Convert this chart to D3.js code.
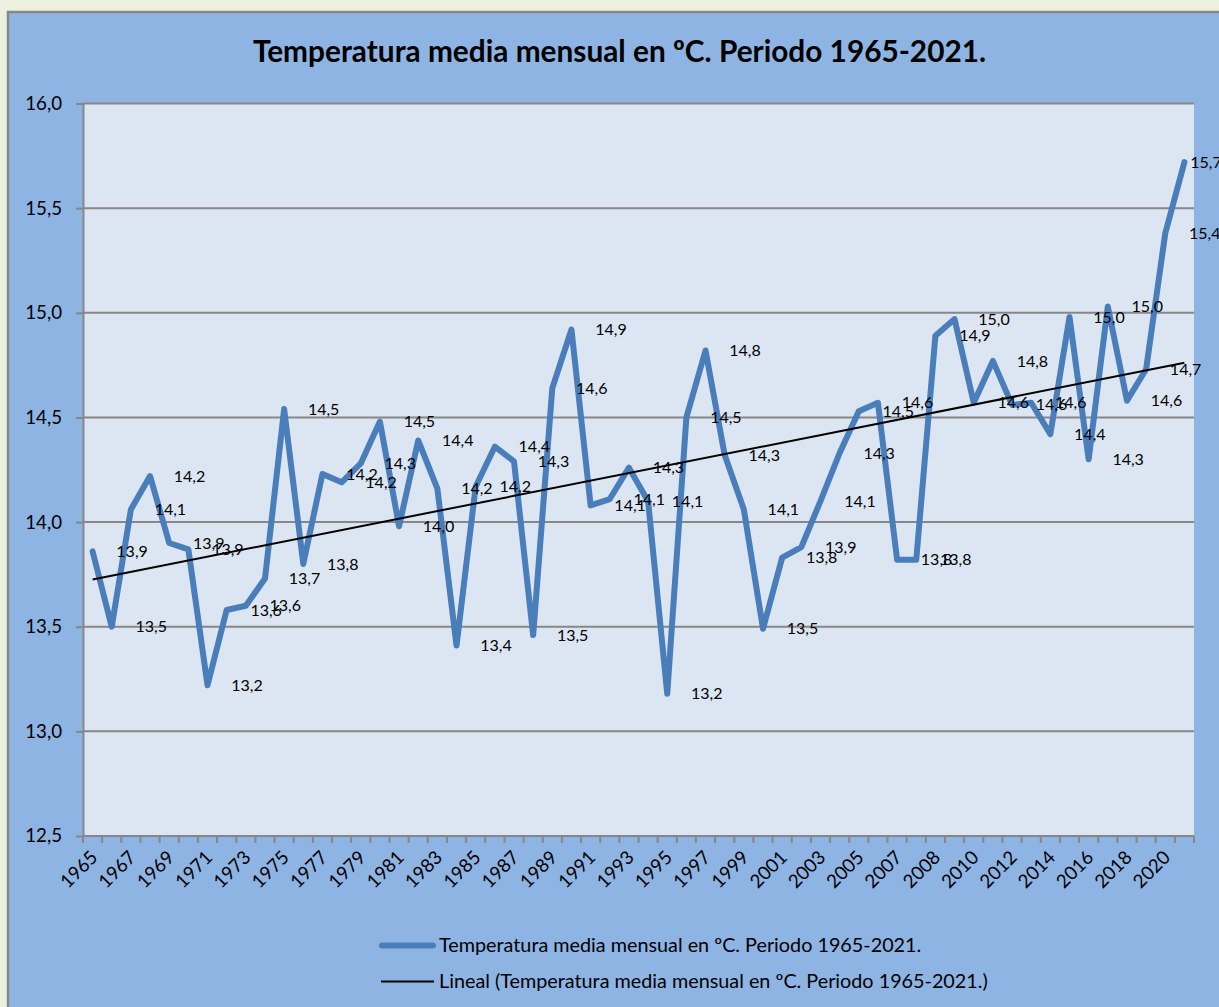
<!DOCTYPE html>
<html><head><meta charset="utf-8">
<script src="https://cdn.jsdelivr.net/npm/d3@7"></script>
<style>html,body{margin:0;padding:0;background:#EBF1DE;overflow:hidden;} svg{display:block;font-family:Lato,"Open Sans",sans-serif;}</style>
</head><body><svg id="c" width="1219" height="1007"></svg>
<script>
const chartTitle = "Temperatura media mensual en ºC. Periodo 1965-2021.";
const seriesName = "Temperatura media mensual en ºC. Periodo 1965-2021.";
const trendName = "Lineal (Temperatura media mensual en ºC. Periodo 1965-2021.)";
const categories = ["1965","1966","1967","1968","1969","1970","1971","1972","1973","1974",
  "1975","1976","1977","1978","1979","1980","1981","1982","1983","1984",
  "1985","1986","1987","1988","1989","1990","1991","1992","1993","1994",
  "1995","1996","1997","1998","1999","2000","2001","2002","2003","2004",
  "2005","2006","2007","2007","2008","2009","2010","2011","2012","2013",
  "2014","2015","2016","2017","2018","2019","2020","2021"];
const temps = [13.86,13.50,14.06,14.22,13.90,13.87,13.22,13.58,13.60,13.73,
  14.54,13.80,14.23,14.19,14.28,14.48,13.98,14.39,14.16,13.41,
  14.17,14.36,14.29,13.46,14.64,14.92,14.08,14.11,14.26,14.10,
  13.18,14.50,14.82,14.32,14.06,13.49,13.83,13.88,14.10,14.33,
  14.53,14.57,13.82,13.82,14.89,14.97,14.57,14.77,14.56,14.57,
  14.42,14.98,14.30,15.03,14.58,14.73,15.38,15.72];
const yTicks = [12.5,13.0,13.5,14.0,14.5,15.0,15.5,16.0];

const W = 1219, H = 1007;
const L = 83, R = 1194, T = 103.5, B = 836;
const svg = d3.select("#c");
const fmt = d => d3.format(".1f")(d).replace(".", ",");

svg.append("rect").attr("width", W).attr("height", H).attr("fill", "#EBF1DE");
svg.append("rect").attr("x", 8).attr("y", 12).attr("width", W + 20).attr("height", H + 20)
  .attr("fill", "#8EB4E3").attr("stroke", "#878787").attr("stroke-width", 2.5);
svg.append("rect").attr("x", L).attr("y", T).attr("width", R - L).attr("height", B - T).attr("fill", "#DCE6F2");

const x = d3.scaleBand().domain(d3.range(temps.length)).range([L, R]);
const cx = i => x(i) + x.bandwidth() / 2;
const y = d3.scaleLinear().domain([12.5, 16]).range([B, T]);

// gridlines
svg.append("g").selectAll("line").data(yTicks.filter(d => d > 12.5)).join("line")
  .attr("x1", L).attr("x2", R).attr("y1", d => y(d)).attr("y2", d => y(d))
  .attr("stroke", "#878787").attr("stroke-width", 2);

// y axis
const yAxis = svg.append("g").attr("transform", `translate(${L},0)`)
  .call(d3.axisLeft(y).tickValues(yTicks).tickSize(7).tickSizeOuter(0).tickPadding(14).tickFormat(fmt));
yAxis.select(".domain").attr("stroke", "#878787").attr("stroke-width", 2);
yAxis.selectAll(".tick line").attr("stroke", "#878787").attr("stroke-width", 2);
yAxis.selectAll(".tick text").attr("font-size", 18.7).attr("fill", "#000").attr("font-family", "Lato");

// x axis
const bounds = d3.range(temps.length).map(i => x(i)).concat([R]);
svg.append("line").attr("x1", L).attr("x2", R).attr("y1", B).attr("y2", B)
  .attr("stroke", "#878787").attr("stroke-width", 2);
svg.append("g").selectAll("line").data(bounds).join("line")
  .attr("x1", d => d).attr("x2", d => d).attr("y1", B).attr("y2", B + 7)
  .attr("stroke", "#878787").attr("stroke-width", 2);
svg.append("g").selectAll("text").data(d3.range(0, temps.length, 2)).join("text")
  .attr("transform", i => `translate(${cx(i) + 1.5},${B + 18}) rotate(-45)`)
  .attr("text-anchor", "end").attr("dy", "0.35em")
  .attr("font-size", 18.7).attr("fill", "#000")
  .text(i => categories[i]);

// series
const line = d3.line().x((d, i) => cx(i)).y(d => y(d));
svg.append("path").datum(temps).attr("d", line).attr("fill", "none")
  .attr("stroke", "#4A7EBB").attr("stroke-width", 6).attr("stroke-linejoin", "round").attr("stroke-linecap", "round");

// linear trend (least squares)
const n = temps.length;
const idx = d3.range(n);
const mx = d3.mean(idx), my = d3.mean(temps);
const slope = d3.sum(idx, i => (i - mx) * (temps[i] - my)) / d3.sum(idx, i => (i - mx) ** 2);
const icpt = my - slope * mx;
svg.append("line").attr("x1", cx(0)).attr("x2", cx(n - 1))
  .attr("y1", y(icpt)).attr("y2", y(icpt + slope * (n - 1)))
  .attr("stroke", "#000").attr("stroke-width", 2);

// data labels (kept inside the chart area like the original)
svg.append("g").selectAll("text").data(temps).join("text")
  .attr("x", (d, i) => Math.min(cx(i) + 39.5, 1206)).attr("y", d => y(d)).attr("dy", "0.35em")
  .attr("text-anchor", "middle").attr("font-size", 16).attr("fill", "#000")
  .text(fmt);

// title
svg.append("text").attr("x", 619.5).attr("y", 62).attr("text-anchor", "middle")
  .attr("font-size", 29.8).attr("font-weight", "bold").attr("fill", "#000").text(chartTitle);

// legend
const lg = svg.append("g");
lg.append("line").attr("x1", 382).attr("x2", 433).attr("y1", 945.5).attr("y2", 945.5)
  .attr("stroke", "#4A7EBB").attr("stroke-width", 6).attr("stroke-linecap", "round");
lg.append("text").attr("x", 439).attr("y", 952).attr("font-size", 19.8).attr("fill", "#000").text(seriesName);
lg.append("line").attr("x1", 381).attr("x2", 434).attr("y1", 981.5).attr("y2", 981.5)
  .attr("stroke", "#000").attr("stroke-width", 2);
lg.append("text").attr("x", 439).attr("y", 988).attr("font-size", 19.8).attr("fill", "#000").text(trendName);
</script></body></html>
